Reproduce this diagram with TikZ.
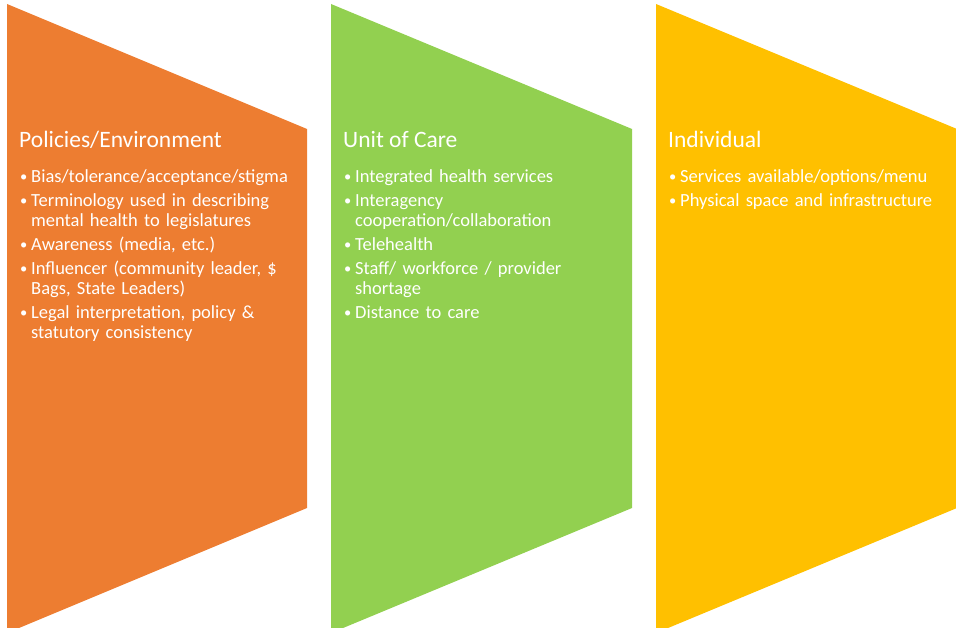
\documentclass[tikz,border=0pt]{standalone}
\usepackage{fontspec}
\setmainfont{Carlito}
\usepackage{xcolor}
\usetikzlibrary{positioning}
\definecolor{Carrot}{HTML}{ED7D31}
\definecolor{Lime}{HTML}{92D050}
\definecolor{Amber}{HTML}{FFC000}
\newcommand{\bitem}[1]{\hangindent=11pt\hangafter=1\strut
  \makebox[11pt][l]{\raisebox{1pt}{\fontsize{14.5}{14}\selectfont\textbullet}}#1\par}

\begin{document}
\begin{tikzpicture}[x=1pt,y=-1pt,
  headline/.style={text=white,font=\fontsize{23.5}{28}\selectfont,inner sep=0pt,anchor=base west},
  bullets/.style={text=white,font=\fontsize{18.5}{20}\selectfont,inner sep=0pt,text width=300pt,align=left,
    execute at begin node={\setlength{\parskip}{4pt}}}]
\useasboundingbox (0,0) rectangle (956,628);
\clip (0,0) rectangle (956,628);
% the three panels
\fill[Carrot] (7,4) -- (307,129) -- (307,508) -- (7,633) -- cycle;
\fill[Lime] (331,4) -- (632,129) -- (632,508) -- (331,633) -- cycle;
\fill[Amber] (656,4) -- (957,129) -- (957,508) -- (656,633) -- cycle;
% texts
\node[headline] (polTitle) at (19,148) {Policies/Environment};
\node[bullets,below right=20pt and 1pt of polTitle.base west] (polList) {%
  \bitem{Bias/tolerance/acceptance/stigma}
  \bitem{Terminology used in describing\newline mental health to legislatures}
  \bitem{Awareness (media, etc.)}
  \bitem{Influencer (community leader, \$\newline Bags, State Leaders)}
  \bitem{Legal interpretation, policy \&\newline statutory consistency}};
\node[headline] (unitTitle) at (343,148) {Unit of Care};
\node[bullets,below right=20pt and 1pt of unitTitle.base west] (unitList) {%
  \bitem{Integrated health services}
  \bitem{Interagency\newline cooperation/collaboration}
  \bitem{Telehealth}
  \bitem{Staff/ workforce / provider\newline shortage}
  \bitem{Distance to care}};
\node[headline] (indTitle) at (668,148) {Individual};
\node[bullets,below right=20pt and 1pt of indTitle.base west] (indList) {%
  \bitem{Services available/options/menu}
  \bitem{Physical space and infrastructure}};
\end{tikzpicture}
\end{document}
